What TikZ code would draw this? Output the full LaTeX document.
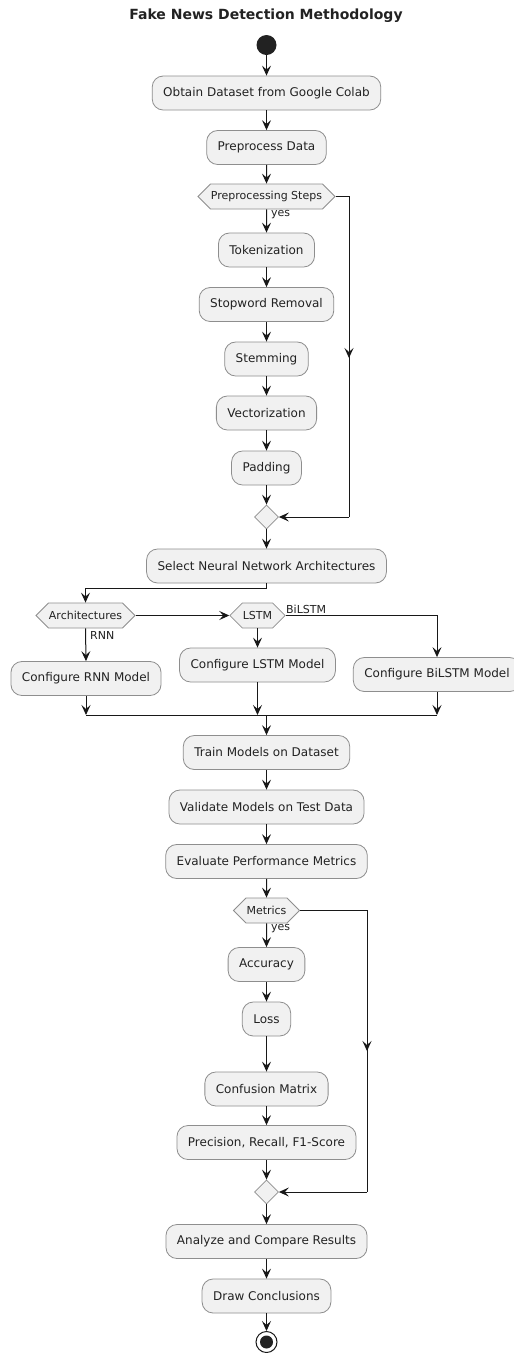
\documentclass[tikz,border=0pt]{standalone}
\usepackage{fontspec}
\setmainfont{DejaVu Sans}
\usetikzlibrary{arrows.meta,shapes.geometric,shapes.symbols,calc}
\definecolor{boxfill}{HTML}{F1F1F1}
\definecolor{ink}{HTML}{181818}
\definecolor{edge}{HTML}{8E8E8E}
\definecolor{txt}{HTML}{222222}
\definecolor{dot}{HTML}{222222}
\tikzset{
  actbox/.style={draw=edge, fill=boxfill, line width=0.8pt, rounded corners=11pt,
    minimum height=34pt, inner xsep=11pt, inner ysep=0pt,
    font=\fontsize{12}{14}\selectfont, text=txt},
  hexbox/.style={signal, signal to=west and east, signal pointer angle=90,
    draw=edge, fill=boxfill, line width=0.8pt, minimum height=25pt,
    inner xsep=0.5pt, inner ysep=0pt, font=\fontsize{11}{13}\selectfont, text=txt},
  mergebox/.style={diamond, draw=edge, fill=boxfill, line width=0.8pt,
    minimum size=24pt, inner sep=0pt},
  lbl/.style={font=\fontsize{11}{13}\selectfont, inner sep=0pt, text=txt},
  flow/.style={draw=ink, line width=1pt},
  arr/.style={flow, -{Stealth[length=10pt,width=9pt,inset=4pt]}},
}
\begin{document}
\begin{tikzpicture}[x=1pt,y=-1pt]
\useasboundingbox (0,0) rectangle (514,1353);
\fill[white] (0,0) rectangle (514,1353);

\node[font=\bfseries\fontsize{14}{16}\selectfont, text=txt] (title) at (266,16) {Fake News Detection Methodology};

\node[circle, fill=dot, minimum size=20pt, inner sep=0pt] (start) at (266.5,45) {};
\node[actbox] (n1) at (266.5,93) {Obtain Dataset from Google Colab};
\node[actbox] (n2) at (266.5,147.5) {Preprocess Data};
\node[hexbox] (h1) at (266.5,196.5) {Preprocessing Steps};
\node[actbox] (t1) at (266.5,250) {Tokenization};
\node[actbox] (t2) at (266.5,304.5) {Stopword Removal};
\node[actbox] (t3) at (266.5,359) {Stemming};
\node[actbox] (t4) at (266.5,413) {Vectorization};
\node[actbox] (t5) at (266.5,468) {Padding};
\node[mergebox] (m1) at (266.5,517) {};
\node[actbox] (n3) at (266.5,566) {Select Neural Network Architectures};
\node[hexbox] (h2) at (85.5,615.5) {Architectures};
\node[hexbox] (h3) at (257.5,615.5) {LSTM};
\node[actbox] (r1) at (86,678.5) {Configure RNN Model};
\node[actbox] (r2) at (257.5,665) {Configure LSTM Model};
\node[actbox] (r3) at (437,674.5) {Configure BiLSTM Model};
\node[actbox] (n4) at (266.5,752.5) {Train Models on Dataset};
\node[actbox] (n5) at (266.5,807) {Validate Models on Test Data};
\node[actbox] (n6) at (266.5,861.5) {Evaluate Performance Metrics};
\node[hexbox] (h4) at (266.5,910.5) {Metrics};
\node[actbox] (a1) at (266.5,964.5) {Accuracy};
\node[actbox] (a2) at (266.5,1019) {Loss};
\node[actbox] (a3) at (266.5,1089) {Confusion Matrix};
\node[actbox] (a4) at (266.5,1142.5) {Precision, Recall, F1-Score};
\node[mergebox] (m2) at (266.5,1192) {};
\node[actbox] (n7) at (266.5,1241.5) {Analyze and Compare Results};
\node[actbox] (n8) at (266.5,1296) {Draw Conclusions};
\node[circle, draw=ink, line width=1pt, fill=white, minimum size=21pt, inner sep=0pt] (stop) at (266.5,1342) {};
\fill[dot] (stop.center) circle (6.5pt);

% main column
\draw[arr] (start) -- (n1);
\draw[arr] (n1) -- (n2);
\draw[arr] (n2) -- (h1);
\draw[arr] (h1) -- (t1);
\draw[arr] (t1) -- (t2);
\draw[arr] (t2) -- (t3);
\draw[arr] (t3) -- (t4);
\draw[arr] (t4) -- (t5);
\draw[arr] (t5) -- (m1);
\draw[arr] (m1) -- (n3);
\node[lbl, anchor=west] (yes1) at (271,215) {yes};

% skip branch 1
\coordinate (s1a) at (349,196.5);
\coordinate (s1b) at (349,517);
\coordinate (s1m) at (349,358);
\draw[flow] (h1.east) -- (s1a) -- (s1b);
\draw[arr] (s1a) -- (s1m);
\draw[arr] (s1b) -- (m1.east);

% architectures
\coordinate (sp) at (266.5,588);
\draw[arr] (n3.south) -- (sp) -| (h2.north);
\draw[arr] (h2.east) -- (h3.west);
\coordinate (bl) at (437,615.5);
\draw[arr] (h3.east) -- (bl) -- (r3.north);
\draw[arr] (h2.south) -- (r1.north);
\draw[arr] (h3.south) -- (r2.north);
\node[lbl, anchor=south west] (lblbi) at (286,614) {BiLSTM};
\node[lbl, anchor=west] (lblrnn) at (90,635) {RNN};

% join
\coordinate (j1) at (86,715);
\coordinate (j2) at (257.5,715);
\coordinate (j3) at (437,715);
\coordinate (jc) at (266.5,715);
\draw[arr] (r1.south) -- (j1);
\draw[arr] (r2.south) -- (j2);
\draw[arr] (r3.south) -- (j3);
\draw[flow] (j1) -- (j3);
\draw[arr] (jc) -- (n4);
\draw[arr] (n4) -- (n5);
\draw[arr] (n5) -- (n6);
\draw[arr] (n6) -- (h4);
\draw[arr] (h4) -- (a1);
\draw[arr] (a1) -- (a2);
\draw[arr] (a2) -- (a3);
\draw[arr] (a3) -- (a4);
\draw[arr] (a4) -- (m2);
\draw[arr] (m2) -- (n7);
\draw[arr] (n7) -- (n8);
\draw[arr] (n8) -- (stop);
\node[lbl, anchor=west] (yes2) at (271,929) {yes};

% skip branch 2
\coordinate (s2a) at (367,910.5);
\coordinate (s2b) at (367,1192);
\coordinate (s2m) at (367,1051);
\draw[flow] (h4.east) -- (s2a) -- (s2b);
\draw[arr] (s2a) -- (s2m);
\draw[arr] (s2b) -- (m2.east);
\end{tikzpicture}
\end{document}
